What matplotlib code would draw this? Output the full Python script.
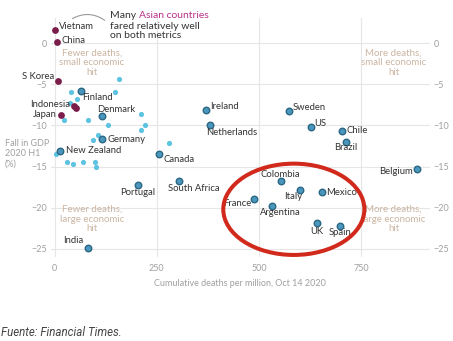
import matplotlib.pyplot as plt
from matplotlib.patches import Ellipse

# deaths per million (Oct 14 2020) and fall in GDP, 2020 H1 (%)
asia_names = ["Vietnam", "China", "S Korea", "Indonesia", "Japan"]
asia_deaths = [2, 5, 8, 47, 16]
asia_gdp = [1.6, 0.1, -4.6, -7.7, -8.7]

asia_other_deaths = [52]
asia_other_gdp = [-7.9]

names = ["Finland", "Denmark", "Germany", "New Zealand", "Ireland", "Netherlands",
         "Canada", "Portugal", "South Africa", "India", "Sweden", "US", "Chile",
         "Brazil", "Belgium", "Colombia", "Italy", "Mexico", "France", "Argentina",
         "UK", "Spain"]
deaths = [65, 117, 117, 13, 370, 380, 256, 203, 305, 81, 573, 626, 702, 712, 886,
          553, 600, 655, 488, 531, 641, 699]
gdp = [-5.8, -8.9, -11.6, -13.1, -8.1, -10.0, -13.5, -17.3, -16.8, -24.9, -8.3,
       -10.2, -10.7, -12.0, -15.3, -16.8, -17.9, -18.1, -19.0, -19.8, -21.9, -22.2]

other_deaths = [158, 40, 54, 148, 38, 22, 81, 212, 130, 220, 211, 107, 95, 280,
                4, 30, 44, 70, 99, 101]
other_gdp = [-4.3, -5.9, -6.8, -5.9, -7.3, -9.3, -9.3, -8.6, -9.9, -9.9, -10.6,
             -11.2, -11.8, -12.1, -13.5, -14.4, -14.7, -14.4, -14.4, -15.0]

xticks = [0, 250, 500, 750]
yticks = [0, -5, -10, -15, -20, -25]

# label placement: pixel offset from the dot, horizontal alignment
label_pos = {
    "Vietnam": (4, 4, "left"), "China": (5, 2, "left"), "S Korea": (-4, 4, "right"),
    "Indonesia": (-4, 2, "right"), "Japan": (-4, 0, "right"),
    "Finland": (1, -7, "left"), "Denmark": (-5, 7, "left"), "Germany": (5, -1, "left"),
    "New Zealand": (6, 0, "left"), "Ireland": (4, 3, "left"),
    "Netherlands": (-4, -7, "left"), "Canada": (4, -5, "left"),
    "Portugal": (0, -7, "center"), "South Africa": (14, -7, "center"),
    "India": (-4, 7, "right"), "Sweden": (4, 4, "left"), "US": (4, 4, "left"),
    "Chile": (5, 1, "left"), "Brazil": (0, -6, "center"), "Belgium": (-4, -3, "right"),
    "Colombia": (0, 7, "center"), "Italy": (-7, -6, "center"), "Mexico": (4, 0, "left"),
    "France": (-3, -4, "right"), "Argentina": (9, -6, "center"), "UK": (0, -8, "center"),
    "Spain": (0, -7, "center"),
}

FONT = "Lato"
GREY = "#a0a0a0"
W, H = 453, 341
fig = plt.figure(figsize=(W / 100, H / 100), dpi=100)
ax = fig.add_axes([50.5 / W, 1 - 257 / H, 379.5 / W, 239 / H])
ax.set_xlim(-10, 918)
ax.set_ylim(-26, 3.06)

for s in ax.spines.values():
    s.set_visible(False)
ax.set_xticks(xticks)
ax.set_yticks(yticks)
ax.set_yticklabels([str(t).replace("-", "\u2212") for t in yticks])
ax.tick_params(length=0, labelsize=6.5, labelcolor=GREY, labelright=True, pad=2.5)
ax.tick_params(axis="x", pad=5)
for lab in ax.get_xticklabels():
    lab.set_family(FONT)
for t in ax.yaxis.get_major_ticks():
    t.label1.set_family(FONT)
    t.label2.set_family(FONT)
ax.grid(True, color="#e6e6e6", lw=0.8)
ax.set_axisbelow(True)

ax.set_xlabel("Cumulative deaths per million, Oct 14 2020", fontsize=6.5,
              color=GREY, family=FONT, labelpad=4)

ax.scatter(other_deaths, other_gdp, s=14, color="#5cc3e0", zorder=3, lw=0)
ax.scatter(deaths, gdp, s=22, color="#4a96bd", edgecolor="#2b6783", lw=1.0,
           zorder=4)
ax.scatter(asia_deaths + asia_other_deaths, asia_gdp + asia_other_gdp, s=24,
           color="#7b1d4b", lw=0, zorder=4)

for n, x, y in zip(asia_names + names, asia_deaths + deaths, asia_gdp + gdp):
    dx, dy, ha = label_pos[n]
    ax.annotate(n, (x, y), xytext=(dx, dy), textcoords="offset pixels", ha=ha,
                va="center", fontsize=6.8, color="#333333", family=FONT, zorder=5)

quad = dict(fontsize=7, color="#cbb5a2", family=FONT, ha="center", va="center",
            linespacing=1.1)
ax.text(91, -2.4, "Fewer deaths,\nsmall economic\nhit", **quad)
ax.text(829, -2.4, "More deaths,\nsmall economic\nhit", **quad)
ax.text(91, -21.4, "Fewer deaths,\nlarge economic\nhit", **quad)
ax.text(829, -21.4, "More deaths,\nlarge economic\nhit", **quad)

ax.add_patch(Ellipse((585, -20.2), 345, 11.1, fill=False, ec="#d12a1c", lw=2.9,
                     zorder=6, clip_on=False))

# note on Asian countries
t_many = fig.text(110 / W, 1 - 16 / H, "Many", ha="left", va="center",
                  fontsize=7.5, color="#333333", family=FONT)
ax.annotate("Asian countries", xy=(1, 0), xycoords=t_many, xytext=(3, 0),
            textcoords="offset pixels", ha="left", va="bottom", fontsize=7.5,
            color="#b8328a", family=FONT)
fig.text(110 / W, 1 - 31 / H, "fared relatively well\non both metrics", ha="left",
         va="center", fontsize=7.5, color="#333333", family=FONT, linespacing=1.05)
ax.annotate("", xy=(107 / W, 1 - 22 / H), xycoords="figure fraction",
            xytext=(70 / W, 1 - 20 / H), textcoords="figure fraction",
            arrowprops=dict(arrowstyle="-", connectionstyle="arc3,rad=-0.35",
                            color="#9a9a9a", lw=0.8))

# y-axis title, one line at a time
for i, line in enumerate(["Fall in GDP", "2020 H1", "(%)"]):
    fig.text(5 / W, 1 - (143 + 10.5 * i) / H, line, ha="left", va="center",
             fontsize=6.5, color=GREY, family=FONT)

fig.text(1 / W, 8 / H, "Fuente: Financial Times.", ha="left", va="center",
         fontsize=8.3, color="#444444", family="Roboto", style="italic")

fig.savefig("out.png", dpi=100, facecolor="white")
